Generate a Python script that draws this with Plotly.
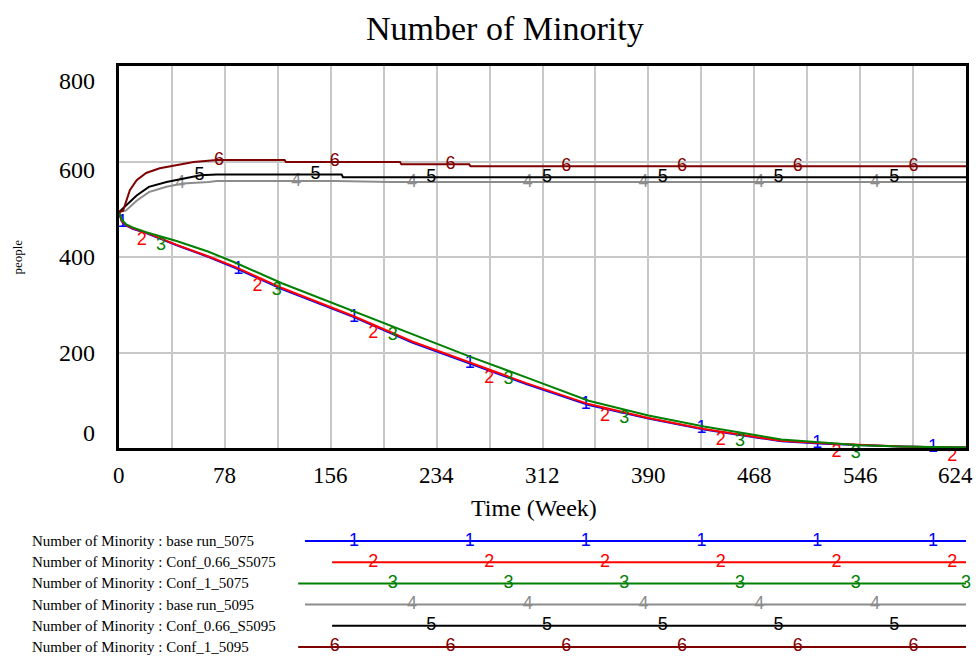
import numpy as np
import plotly.graph_objects as go

# Time axis (weeks) and values
t_5075 = [0, 2, 5, 10, 20, 43, 66, 85, 120, 173, 216, 259, 300, 346, 390, 431, 488, 519, 546, 576, 603, 624]
base_run_5075 = [494, 475, 466, 459, 450, 424, 400, 378, 333, 274, 221, 177, 134, 90, 62, 39, 14, 9, 6, 3, 1.5, 1]
conf066_s5075 = [494, 476, 467, 460, 451, 425, 401, 380, 335, 276, 223, 179, 136, 92, 63, 40, 15, 10, 6, 3, 1.5, 1]
conf1_5075 = [494, 478, 469, 462, 452, 433, 411, 389, 345, 286, 238, 191, 148, 99, 68, 45, 18, 12, 6, 3, 1.5, 1]

t_base_5095 = [0, 5, 13, 22, 35, 47, 66, 72, 160, 200, 624]
base_run_5095 = [494, 497, 518, 536, 547, 554, 557, 559, 559, 557, 557]
t_conf066_5095 = [0, 5, 13, 22, 35, 47, 60, 72, 164, 165, 624]
conf066_s5095 = [494, 508, 529, 547, 557, 564, 571, 573, 573, 567, 567]
t_conf1_5095 = [0, 3, 8, 13, 20, 30, 42, 55, 72, 122, 123, 207, 208, 258, 259, 624]
conf1_5095 = [494, 497, 540, 561, 576, 586, 592, 599, 603, 603, 599, 599, 594, 594, 590, 590]

run_names = ["base run_5075", "Conf_0.66_S5075", "Conf_1_5075",
             "base run_5095", "Conf_0.66_S5095", "Conf_1_5095"]
colors = ["#0000ff", "#ff0000", "#008000", "#8c8c8c", "#000000", "#800000"]
x_ticks = [0, 78, 156, 234, 312, 390, 468, 546, 624]
y_ticks = [0, 200, 400, 600, 800]

series = [
    (t_5075, base_run_5075, "middle center"),
    (t_5075, conf066_s5075, "bottom center"),
    (t_5075, conf1_5075, "bottom center"),
    (t_base_5095, base_run_5095, "middle center"),
    (t_conf066_5095, conf066_s5095, "middle center"),
    (t_conf1_5095, conf1_5095, "middle center"),
]

# legend line starts (in weeks, same x scale as the chart)
legend_start = [137, 157, 132, 137, 157, 132]

SERIF = "Liberation Serif"
SANS = "Liberation Sans"


def marker_times(i, lo, hi):
    # Vensim puts the run numbers at a fixed spacing, staggered per run
    return [min(2.6 + 14.2 * i + 85.3 * k, 624) for k in range(9)
            if lo <= 2.6 + 14.2 * i + 85.3 * k <= hi]


fig = go.Figure()

for i, (t, v, pos) in enumerate(series):
    fig.add_trace(go.Scatter(x=t, y=v, mode="lines", line=dict(color=colors[i], width=2),
                             xaxis="x", yaxis="y", showlegend=False, hoverinfo="skip"))
    mt = marker_times(i, 0, 624)
    fig.add_trace(go.Scatter(x=mt, y=np.interp(mt, t, v), mode="text", text=[str(i + 1)] * len(mt),
                             textposition=pos, textfont=dict(family=SANS, size=18, color=colors[i]),
                             xaxis="x", yaxis="y", showlegend=False, hoverinfo="skip", cliponaxis=False))

# legend block under the chart
annotations = []
for i, name in enumerate(run_names):
    row = 6 - i
    fig.add_trace(go.Scatter(x=[legend_start[i], 624], y=[row, row], mode="lines",
                             line=dict(color=colors[i], width=2),
                             xaxis="x2", yaxis="y2", showlegend=False, hoverinfo="skip"))
    mt = marker_times(i, legend_start[i], 630)
    fig.add_trace(go.Scatter(x=mt, y=[row] * len(mt), mode="text", text=[str(i + 1)] * len(mt),
                             textposition="middle center",
                             textfont=dict(family=SANS, size=18, color=colors[i]),
                             xaxis="x2", yaxis="y2", showlegend=False, hoverinfo="skip", cliponaxis=False))
    annotations.append(dict(text="Number of Minority : " + name, x=-0.105, xref="paper",
                            y=row, yref="y2", xanchor="left", yanchor="middle", showarrow=False,
                            font=dict(family=SERIF, size=15, color="black")))

# tick labels (Vensim nudges the end labels inward)
y_shift = {0: 15, 200: 0, 400: 0, 600: -8, 800: -15}
for yv in y_ticks:
    annotations.append(dict(text=str(yv), x=-0.026, xref="paper", y=yv, yref="y",
                            xanchor="right", yanchor="middle", yshift=y_shift[yv], showarrow=False,
                            font=dict(family=SERIF, size=24, color="black")))
for xv in x_ticks:
    annotations.append(dict(text=str(xv), x=xv, xref="x", y=0.3525, yref="paper",
                            xanchor="center", yanchor="middle", yshift=-27,
                            xshift=-11 if xv == 624 else 0, showarrow=False,
                            font=dict(family=SERIF, size=23, color="black")))

annotations.append(dict(text="Time (Week)", x=0.49, xref="paper", y=0.3525, yref="paper",
                        yanchor="middle", yshift=-60, showarrow=False,
                        font=dict(family=SERIF, size=24, color="black")))
annotations.append(dict(text="people", x=-0.12, xref="paper", y=0.676, yref="paper",
                        textangle=-90, xanchor="center", yanchor="middle", showarrow=False,
                        font=dict(family=SERIF, size=13, color="black")))
annotations.append(dict(text="Number of Minority", x=0.456, xref="paper", y=1.064, yref="paper",
                        xanchor="center", yanchor="middle", showarrow=False,
                        font=dict(family=SERIF, size=34, color="black")))

fig.update_layout(
    width=980, height=656,
    margin=dict(l=119, r=14, t=66, b=0),
    paper_bgcolor="white", plot_bgcolor="white",
    showlegend=False,
    annotations=annotations,
    xaxis=dict(domain=[0, 1], range=[0, 624], tick0=0, dtick=39, showticklabels=False,
               showgrid=True, gridcolor="#c8c8c8", gridwidth=2, zeroline=False,
               showline=True, mirror=True, linecolor="black", linewidth=3, anchor="y", ticks=""),
    yaxis=dict(domain=[0.3525, 1], range=[0, 800], tick0=0, dtick=200, showticklabels=False,
               showgrid=True, gridcolor="#c8c8c8", gridwidth=2, zeroline=False,
               showline=True, mirror=True, linecolor="black", linewidth=3, anchor="x", ticks=""),
    xaxis2=dict(domain=[0, 1], range=[0, 624], visible=False, anchor="y2"),
    yaxis2=dict(domain=[0, 0.2136], range=[0.575, 6.52], visible=False, anchor="x2"),
)

# drop the default page margin so the 980x656 figure fills the window exactly
fig.write_html("out.html", config={"displayModeBar": False},
               post_script="document.body.style.margin='0px';")
